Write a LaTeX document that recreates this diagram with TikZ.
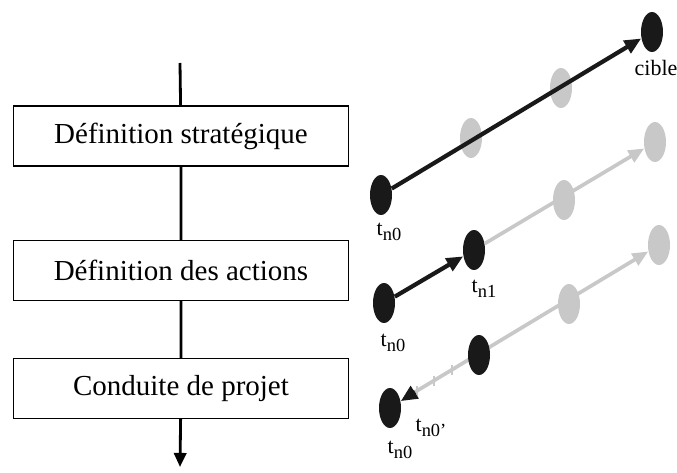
\documentclass[tikz,border=0pt]{standalone}
\usepackage{fontspec}
\setmainfont{Liberation Serif}
\usetikzlibrary{arrows.meta,shapes.geometric}
\definecolor{dotgrey}{RGB}{200,200,200}
\definecolor{dotblack}{RGB}{25,25,25}
\begin{document}
\begin{tikzpicture}[x=0.02cm, y=-0.02cm,
    stage/.style={draw, line width=0.6pt, minimum width=6.72cm, minimum height=1.2cm,
      font=\fontsize{16.5}{18}\selectfont, inner sep=0pt},
    blackdot/.style={ellipse, fill=dotblack, minimum width=0.44cm, minimum height=0.8cm, inner sep=0pt},
    greydot/.style={ellipse, fill=dotgrey, minimum width=0.44cm, minimum height=0.8cm, inner sep=0pt},
    blackline/.style={dotblack, line width=2.4pt, -{Triangle[length=9.5pt,width=8pt]}},
    greyline/.style={dotgrey, line width=2.1pt, -{Triangle[length=9pt,width=7.5pt]}},
    tlabel/.style={font=\fontsize{12.5}{14}\selectfont, inner sep=0pt}]
    \useasboundingbox (0,0) rectangle (677,473);

    % left column
    \coordinate (top) at (180,63);
    \coordinate (bottom) at (180,467);
    \node[stage] (strat) at (181,136) {Définition stratégique};
    \node[stage] (act) at (181,270.5) {Définition des actions};
    \node[stage] (proj) at (181,388.5) {Conduite de projet};
    \draw[line width=1.6pt] (top) -- (strat) (strat) -- (act) (act) -- (proj);
    \draw[line width=1.6pt, -{Triangle[length=8pt,width=7pt]}] (proj) -- (bottom);

    % grey dots
    \node[greydot] (r1b) at (471,138) {};
    \node[greydot] (r1c) at (561,88) {};
    \node[greydot] (r2c) at (564,200) {};
    \node[greydot] (r2d) at (655,142) {};
    \node[greydot] (r3c) at (569,304) {};
    \node[greydot] (r3d) at (659,245) {};

    % black dots
    \node[blackdot] (r1a) at (381,195) {};
    \node[blackdot] (r1d) at (652,32) {};
    \node[blackdot] (r2a) at (384,303) {};
    \node[blackdot] (r2b) at (474,250) {};
    \node[blackdot] (r3a) at (390,408) {};
    \coordinate (t0p) at (415,392);

    % lines
    \draw[greyline] (r2b) -- (r2d);
    \draw[greyline] (t0p) -- (r3d);
    \foreach \x in {417,434,452} {
      \draw[dotgrey, line width=0.9pt] (\x,{392-(\x-415)*0.595-5}) -- ++(0,10);
    }
    \node[blackdot] (r3b) at (479,355) {};
    \draw[blackline] (r1a) -- (r1d);
    \draw[blackline] (r2a) -- (r2b);
    \draw[blackline] (t0p) -- (r3a);

    % labels
    \node[tlabel] (cible) at (656,68) {cible};
    \node[tlabel] (l1) at (389,232) {t\raisebox{-0.45ex}{\fontsize{10.5}{11}\selectfont n0}};
    \node[tlabel] (l2) at (393,343) {t\raisebox{-0.45ex}{\fontsize{10.5}{11}\selectfont n0}};
    \node[tlabel] (l3) at (484,289) {t\raisebox{-0.45ex}{\fontsize{10.5}{11}\selectfont n1}};
    \node[tlabel] (l4) at (431,428) {t\raisebox{-0.45ex}{\fontsize{10.5}{11}\selectfont n0'}};
    \node[tlabel] (l5) at (400,450) {t\raisebox{-0.45ex}{\fontsize{10.5}{11}\selectfont n0}};
\end{tikzpicture}
\end{document}
